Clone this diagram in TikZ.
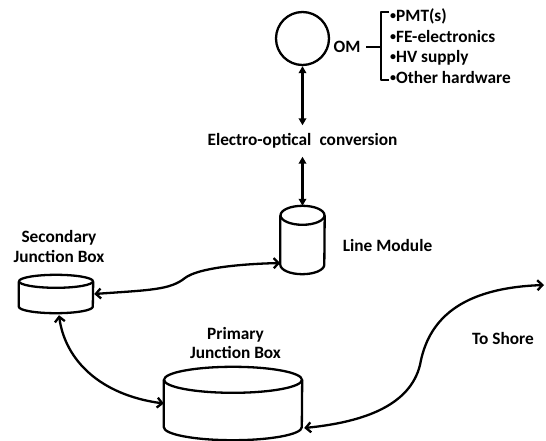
\documentclass[tikz,border=0pt]{standalone}
\usepackage{fontspec}
\setmainfont{Carlito}
\usetikzlibrary{arrows.meta}
\newcommand\mycyl[3]{%
  \draw[line] ([yshift=-#2]#1.north west) -- ([yshift=#2]#1.south west)
     arc[start angle=180,end angle=360,x radius=#3,y radius=#2]
     -- ([yshift=-#2]#1.north east);
  \draw[line] ([yshift=-#2]#1.north) ellipse[x radius=#3,y radius=#2];}
\newcommand\bul{\raisebox{2pt}{\fontsize{12}{12}\selectfont •}}
\begin{document}
\begin{tikzpicture}[x=1pt,y=-1pt,
  line/.style={line width=2.3pt, line join=round},
  lbl/.style={font=\fontsize{17.3}{19.5}\selectfont\bfseries, inner sep=0pt},
  dbl/.style={line, {Straight Barb[length=5pt,width=10pt]}-{Straight Barb[length=5pt,width=10pt]}},
  vdbl/.style={line, {Triangle[length=7pt,width=7.5pt]}-{Triangle[length=7pt,width=7.5pt]}},
  box/.style={inner sep=0pt, draw=none}]
\useasboundingbox[fill=white] (0,0) rectangle (546,441);

% optical module
\node[circle, draw, line width=2.3pt, minimum size=53pt, inner sep=0pt] (om) at (302.5,38.5) {};
\node[lbl] (omt) at (347,47) {OM};
\node[lbl, anchor=west, align=left, font=\fontsize{17.3}{20.7}\selectfont\bfseries] (list) at (390,46)
  {\bul PMT(s)\\\bul FE-electronics\\\bul HV supply\\\bul Other hardware};
\draw[line] (389,12) -- (381,12) -- (381,80) -- (389,80);
\draw[line] (366,47) -- (381,47);

% electro-optical conversion
\node[lbl, minimum height=31pt] (eo) at (302.5,141) {Electro-optical\hspace{0.25em} conversion};

% line module
\node[box, minimum width=44pt, minimum height=68pt] (lm) at (302.5,240) {};
\mycyl{lm}{9.5pt}{22pt}
\node[lbl] (lmt) at (387.5,245) {Line Module};

% secondary junction box
\node[box, minimum width=74pt, minimum height=38pt] (sjb) at (56,294) {};
\mycyl{sjb}{6.5pt}{37pt}
\node[lbl, align=center] (sjbt) at (59,246.5) {Secondary\\Junction Box};

% primary junction box
\node[box, minimum width=138pt, minimum height=73pt] (pjb) at (233,403.5) {};
\mycyl{pjb}{13pt}{69pt}
\node[lbl, align=center] (pjbt) at (235.5,343) {Primary\\Junction Box};

% shore
\node[lbl] (shore) at (503,338) {To Shore};
\coordinate (shoreend) at (544,285);

% connectors
\draw[vdbl] (om.south) -- (eo.north);
\draw[vdbl] (eo.south) -- (lm.north);
\draw[dbl] ([xshift=1pt]sjb.east) .. controls (150,290) and (170,290) .. (185,278)
   .. controls (198,268) and (240,264) .. ([yshift=-23pt]lm.west);
\draw[dbl] ([xshift=3pt,yshift=-2pt]sjb.south) .. controls (65,360) and (100,395) .. (pjb.west);
\draw[dbl] ([xshift=2pt,yshift=-24.5pt]pjb.east) .. controls (365,422) and (410,405) .. (420,365)
   .. controls (428,320) and (460,288) .. (shoreend);
\end{tikzpicture}
\end{document}
